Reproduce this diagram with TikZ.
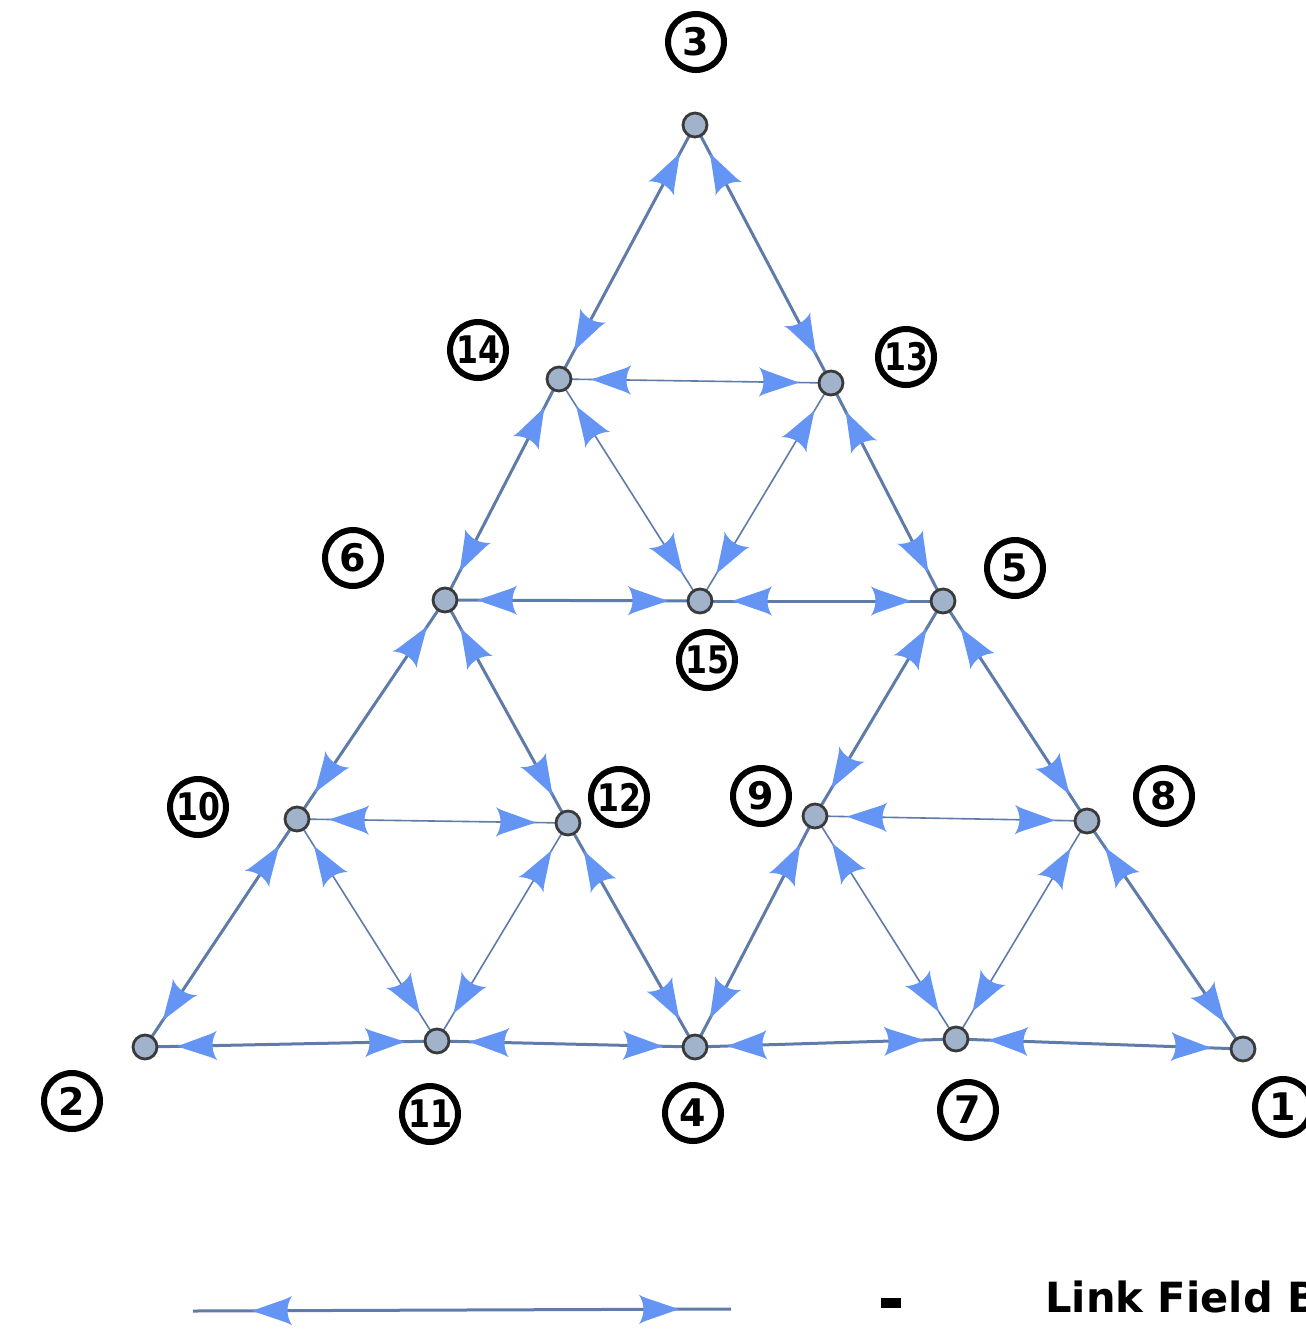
\documentclass[tikz,border=0pt]{standalone}
\usepackage{fontspec}
\usepackage{graphicx}
\setmainfont{DejaVu Sans}
\usetikzlibrary{decorations.markings}

\definecolor{edgecol}{HTML}{5F7BA8}
\definecolor{headcol}{HTML}{6495F5}
\definecolor{vertfill}{HTML}{A1B3CB}
\definecolor{vertline}{HTML}{3A3A3A}

% swept arrowheads, tip at the origin
\newcommand\fwdhead{\fill[headcol] (0pt,0pt) -- (-14.5pt,5pt) .. controls (-17pt,5.8pt) and (-19pt,6.6pt) .. (-20pt,7.4pt) .. controls (-17pt,2.6pt) and (-17pt,-2.6pt) .. (-20pt,-7.4pt) .. controls (-19pt,-6.6pt) and (-17pt,-5.8pt) .. (-14.5pt,-5pt) -- cycle;}
\newcommand\backhead{\fill[headcol] (0pt,0pt) -- (14.5pt,5pt) .. controls (17pt,5.8pt) and (19pt,6.6pt) .. (20pt,7.4pt) .. controls (17pt,2.6pt) and (17pt,-2.6pt) .. (20pt,-7.4pt) .. controls (19pt,-6.6pt) and (17pt,-5.8pt) .. (14.5pt,-5pt) -- cycle;}

\tikzset{
  twoway/.style={draw=edgecol, postaction={decorate},
    decoration={markings,
      mark=at position 16pt with {\backhead},
      mark=at position -16pt with {\fwdhead}}},
  sideedge/.style={twoway, line width=1.5pt},
  midedge/.style={twoway, line width=0.8pt},
  vertex/.style={circle, fill=vertfill, draw=vertline, line width=1.4pt,
    minimum size=12pt, inner sep=0pt},
  numtag/.style={circle, draw=black, line width=3pt, minimum size=28pt,
    inner sep=0pt, font=\fontsize{19pt}{19pt}\selectfont\bfseries},
  keyline/.style={draw=edgecol, line width=1.5pt, postaction={decorate},
    decoration={markings,
      mark=at position 29.5pt with {\backhead},
      mark=at position -26pt with {\fwdhead}}},
}
\newcommand\twodig[1]{\scalebox{0.83}[1]{#1}}

\begin{document}
\begin{tikzpicture}[x=0.5pt, y=-0.5pt]
\useasboundingbox (0,0) rectangle (1306,1329);

% vertex positions
\coordinate (c1) at (1243,1049);
\coordinate (c2) at (145,1047);
\coordinate (c3) at (695,125);
\coordinate (c4) at (695,1047);
\coordinate (c5) at (943,601);
\coordinate (c6) at (445,600);
\coordinate (c7) at (956,1039);
\coordinate (c8) at (1087,821);
\coordinate (c9) at (815,816);
\coordinate (c10) at (297,819);
\coordinate (c11) at (437,1041);
\coordinate (c12) at (568,823);
\coordinate (c13) at (831,383);
\coordinate (c14) at (559,379);
\coordinate (c15) at (700,601);

% sides of the three sub-triangles
\draw[sideedge] (c3) -- (c14);
\draw[sideedge] (c14) -- (c6);
\draw[sideedge] (c3) -- (c13);
\draw[sideedge] (c13) -- (c5);
\draw[sideedge] (c6) -- (c15);
\draw[sideedge] (c15) -- (c5);
\draw[sideedge] (c6) -- (c10);
\draw[sideedge] (c10) -- (c2);
\draw[sideedge] (c6) -- (c12);
\draw[sideedge] (c12) -- (c4);
\draw[sideedge] (c2) -- (c11);
\draw[sideedge] (c11) -- (c4);
\draw[sideedge] (c5) -- (c9);
\draw[sideedge] (c9) -- (c4);
\draw[sideedge] (c5) -- (c8);
\draw[sideedge] (c8) -- (c1);
\draw[sideedge] (c4) -- (c7);
\draw[sideedge] (c7) -- (c1);

% inner triangles
\draw[midedge] (c14) -- (c13);
\draw[midedge] (c14) -- (c15);
\draw[midedge] (c13) -- (c15);
\draw[midedge] (c10) -- (c12);
\draw[midedge] (c10) -- (c11);
\draw[midedge] (c12) -- (c11);
\draw[midedge] (c9) -- (c8);
\draw[midedge] (c9) -- (c7);
\draw[midedge] (c8) -- (c7);

% vertices
\foreach \i in {1,...,15} { \node[vertex] (v\i) at (c\i) {}; }

% numbered tags
\node[numtag] (t1) at (1283,1107) {1};
\node[numtag] (t2) at (72,1101) {2};
\node[numtag] (t3) at (696,42) {3};
\node[numtag] (t4) at (693,1113) {4};
\node[numtag] (t5) at (1015,568) {5};
\node[numtag] (t6) at (353,558) {6};
\node[numtag] (t7) at (968,1110) {7};
\node[numtag] (t8) at (1164,796) {8};
\node[numtag] (t9) at (761,796) {9};
\node[numtag] (t10) at (198,807) {\twodig{10}};
\node[numtag] (t11) at (430,1114) {\twodig{11}};
\node[numtag] (t12) at (619,797) {\twodig{12}};
\node[numtag] (t13) at (906,357) {\twodig{13}};
\node[numtag] (t14) at (478,350) {\twodig{14}};
\node[numtag] (t15) at (707,660) {\twodig{15}};

% legend
\coordinate (k1) at (193,1311);
\coordinate (k2) at (731,1309);
\draw[keyline] (k1) -- (k2);
\node[fill=black, minimum width=10pt, minimum height=5pt, inner sep=0pt] (dash) at (891,1303) {};
\node[anchor=base west, inner sep=0pt, font=\fontsize{20.8pt}{20.8pt}\selectfont\bfseries] (key) at (1045,1312) {Link Field B};
\end{tikzpicture}
\end{document}
